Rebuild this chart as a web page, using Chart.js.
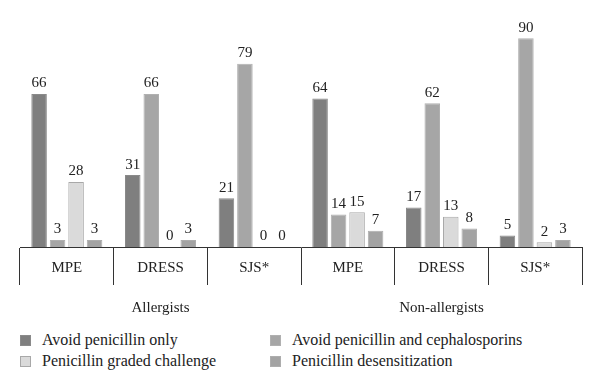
<!DOCTYPE html>
<html lang="en">
<head>
  <meta charset="UTF-8">
  <title>Penicillin allergy management</title>
  <script src="https://cdn.jsdelivr.net/npm/chart.js"></script>
  <style>
    body { margin: 0; background: #fff; }
    #wrap { position: relative; width: 600px; height: 375px; }
    #chartBox { position: absolute; left: 0; top: 0; width: 600px; height: 327px; }
    .legend {
      position: absolute; top: 331px; left: 20px;
      display: grid; grid-template-columns: 250px 300px; row-gap: 3px;
      font-family: "Liberation Serif", "DejaVu Serif", serif; font-size: 16px; color: #222;
    }
    .legend-item { display: flex; align-items: center; height: 18px; }
    .legend-box { width: 11px; height: 11px; margin-right: 11px; box-sizing: border-box; }
  </style>
</head>
<body>
<div id="wrap">
  <div id="chartBox"><canvas id="myChart"></canvas></div>
  <div id="legend" class="legend"></div>
</div>
<script>
  const categories = ['MPE', 'DRESS', 'SJS*', 'MPE', 'DRESS', 'SJS*'];
  const groups = ['Allergists', 'Non-allergists'];
  const seriesNames = ['Avoid penicillin only', 'Avoid penicillin and cephalosporins',
                       'Penicillin graded challenge', 'Penicillin desensitization'];
  const avoidOnly = [66, 31, 21, 64, 17, 5];
  const avoidCeph = [3, 66, 79, 14, 62, 90];
  const gradedChallenge = [28, 0, 0, 15, 13, 2];
  const desensitization = [3, 3, 0, 7, 8, 3];

  const fills = ['#7f7f7f', '#a6a6a6', '#dadada', '#a3a3a3'];
  const borders = ['#8a8a8a', '#b0b0b0', '#a8a8a8', '#adadad'];
  const values = [avoidOnly, avoidCeph, gradedChallenge, desensitization];
  const serif = '"Liberation Serif", "DejaVu Serif", serif';

  const valueLabels = {
    id: 'valueLabels',
    afterDatasetsDraw(chart) {
      const ctx = chart.ctx;
      ctx.save();
      ctx.font = '15px ' + serif;
      ctx.fillStyle = '#222';
      ctx.textAlign = 'center';
      ctx.textBaseline = 'bottom';
      chart.data.datasets.forEach((ds, i) => {
        chart.getDatasetMeta(i).data.forEach((bar, j) => {
          ctx.fillText(String(ds.data[j]), bar.x, bar.y - 3);
        });
      });
      ctx.restore();
    }
  };

  new Chart(document.getElementById('myChart'), {
    type: 'bar',
    data: {
      labels: categories,
      datasets: values.map((v, i) => ({
        label: seriesNames[i],
        data: v,
        backgroundColor: fills[i],
        borderColor: borders[i],
        borderWidth: 1,
        borderSkipped: 'bottom',
        xAxisID: 'x'
      }))
    },
    options: {
      responsive: true,
      maintainAspectRatio: false,
      animation: false,
      layout: { padding: { left: 20, right: 18, top: 15, bottom: 0 } },
      categoryPercentage: 0.79,
      barPercentage: 0.84,
      plugins: { legend: { display: false }, tooltip: { enabled: false } },
      scales: {
        y: { display: false, min: 0, max: 100 },
        x: {
          position: 'bottom',
          grid: { offset: true, drawOnChartArea: false, drawTicks: true, tickLength: 38, color: '#333', lineWidth: 1 },
          border: { display: true, color: '#333', width: 1 },
          ticks: { color: '#222', font: { family: serif, size: 15 }, padding: -26, maxRotation: 0 },
          afterFit(scale) { scale.height = 40; }
        },
        x2: {
          type: 'category',
          position: 'bottom',
          labels: groups,
          offset: true,
          grid: { display: false, drawTicks: false },
          border: { display: false },
          ticks: { color: '#222', font: { family: serif, size: 15 }, padding: 12, maxRotation: 0 },
          afterFit(scale) { scale.height = 40; }
        }
      }
    },
    plugins: [valueLabels]
  });

  // legend in two columns, row by row
  const legend = document.getElementById('legend');
  seriesNames.forEach((name, i) => {
    const item = document.createElement('div');
    item.className = 'legend-item';
    const box = document.createElement('div');
    box.className = 'legend-box';
    box.style.backgroundColor = fills[i];
    box.style.border = '1px solid ' + borders[i];
    const label = document.createElement('span');
    label.innerText = name;
    item.appendChild(box);
    item.appendChild(label);
    legend.appendChild(item);
  });
</script>
</body>
</html>
